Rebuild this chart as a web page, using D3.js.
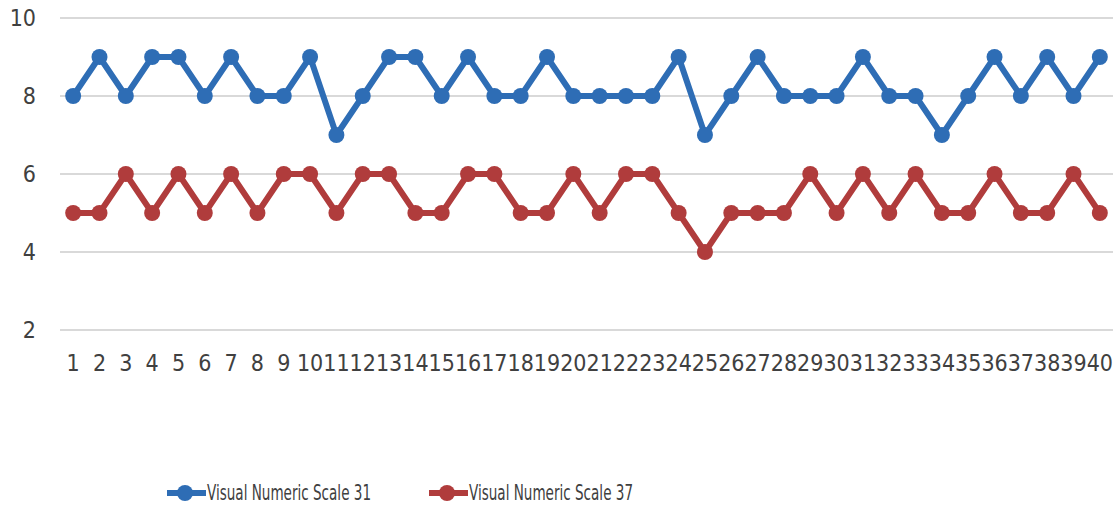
<!DOCTYPE html>
<html>
<head>
<meta charset="utf-8">
<script src="https://cdn.jsdelivr.net/npm/d3@7"></script>
<style>
  body { margin: 0; background: #fff; }
  text { font-family: "Liberation Sans Narrow", "DejaVu Sans Condensed", "Open Sans", sans-serif; fill: #404040; }
</style>
</head>
<body>
<div id="chart"></div>
<script>
// Data
var categories = d3.range(1, 41).map(String);
var scale31 = [8, 9, 8, 9, 9, 8, 9, 8, 8, 9, 7, 8, 9, 9, 8, 9, 8, 8, 9, 8,
               8, 8, 8, 9, 7, 8, 9, 8, 8, 8, 9, 8, 8, 7, 8, 9, 8, 9, 8, 9];
var scale37 = [5, 5, 6, 5, 6, 5, 6, 5, 6, 6, 5, 6, 6, 5, 5, 6, 6, 5, 5, 6,
               5, 6, 6, 5, 4, 5, 5, 5, 6, 5, 6, 5, 6, 5, 5, 6, 5, 5, 6, 5];
var yTicks = [2, 4, 6, 8, 10];
var seriesNames = ["Visual Numeric Scale 31", "Visual Numeric Scale 37"];
var colors = ["#2e6db5", "#b03c3c"];

var w = 1120, h = 509;

var svg = d3.select("#chart").append("svg")
    .attr("width", w)
    .attr("height", h);

var x = d3.scaleBand()
    .domain(categories)
    .range([60, 1113]);

var y = d3.scaleLinear()
    .domain([2, 10])
    .range([330, 18]);

// gridlines
svg.append("g")
    .selectAll("line")
    .data(yTicks)
    .enter()
    .append("line")
    .attr("x1", 60)
    .attr("x2", 1113)
    .attr("y1", function(d) { return y(d); })
    .attr("y2", function(d) { return y(d); })
    .attr("stroke", "#d9d9d9")
    .attr("stroke-width", 2);

// y axis labels
var yAxis = d3.axisLeft(y).tickValues(yTicks).tickSize(0).tickPadding(0);
svg.append("g")
    .attr("transform", "translate(36,0)")
    .call(yAxis)
    .call(function(g) { g.select(".domain").remove(); })
    .selectAll("text")
    .style("font-size", "23px")
    .attr("font-family", null)
    .attr("fill", "#404040");

// x axis labels
var xAxis = d3.axisBottom(x).tickSize(0).tickPadding(0);
svg.append("g")
    .attr("transform", "translate(0,355)")
    .call(xAxis)
    .call(function(g) { g.select(".domain").remove(); })
    .selectAll("text")
    .style("font-size", "23px")
    .attr("fill", "#404040");

var line = d3.line()
    .x(function(d, i) { return x(categories[i]) + x.bandwidth() / 2; })
    .y(function(d) { return y(d); });

[scale31, scale37].forEach(function(data, k) {
    svg.append("path")
        .datum(data)
        .attr("d", line)
        .attr("fill", "none")
        .attr("stroke", colors[k])
        .attr("stroke-width", 6)
        .attr("stroke-linejoin", "round");

    svg.append("g")
        .selectAll("circle")
        .data(data)
        .enter()
        .append("circle")
        .attr("cx", function(d, i) { return x(categories[i]) + x.bandwidth() / 2; })
        .attr("cy", function(d) { return y(d); })
        .attr("r", 8)
        .attr("fill", colors[k]);
});

// legend
var legendX = [167, 429];
var legend = svg.append("g");
seriesNames.forEach(function(name, k) {
    var g = legend.append("g").attr("transform", "translate(" + legendX[k] + ",493)");
    g.append("line")
        .attr("x1", 0).attr("x2", 39)
        .attr("stroke", colors[k])
        .attr("stroke-width", 6);
    g.append("circle")
        .attr("cx", 18).attr("r", 8)
        .attr("fill", colors[k]);
    g.append("text")
        .attr("x", 40)
        .attr("dy", "0.35em")
        .style("font-size", "21px")
        .attr("textLength", 164)
        .attr("lengthAdjust", "spacingAndGlyphs")
        .text(name);
});
</script>
</body>
</html>
